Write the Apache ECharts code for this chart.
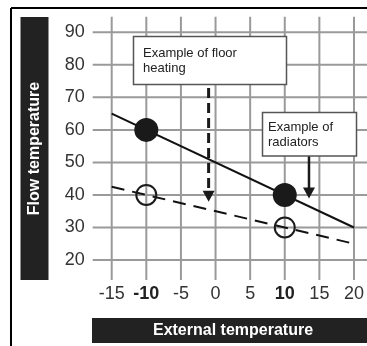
<!DOCTYPE html>
<html><head><meta charset="utf-8">
<script src="https://cdn.jsdelivr.net/npm/echarts@6/dist/echarts.min.js"></script>
<style>html,body{margin:0;padding:0;background:#fff}#c{width:367px;height:346px}</style>
</head><body><div id="c"></div>
<script>
// ---- data ----
var xTicks = [-15, -10, -5, 0, 5, 10, 15, 20];
var yTicks = [20, 30, 40, 50, 60, 70, 80, 90];
var boldTicks = [-10, 10];
var radiatorCurve = [[-15, 65], [20, 30]];
var floorCurve = [[-15, 42.5], [20, 25]];
var radiatorPoints = [[-10, 60], [10, 40]];
var floorPoints = [[-10, 40], [10, 30]];
// arrows: [x, yFrom, yTo, dashed(1/0)]
var arrows = [[-1, 72.9, 37.9, 1], [13.5, 52, 38.9, 0]];
var xTitle = 'External temperature';
var yTitle = 'Flow temperature';
var floorNote = 'Example of floor\nheating';
var radiatorNote = 'Example of\nradiators';

var FONT = '"Liberation Sans", Arial, Helvetica, sans-serif';
var chart = echarts.init(document.getElementById('c'), null, {renderer: 'canvas'});

function tickFmt(v) {
  return boldTicks.indexOf(v) >= 0 ? '{b|' + v + '}' : '{n|' + v + '}';
}
var rich = {
  n: {fontSize: 18, color: '#333', fontFamily: FONT},
  b: {fontSize: 18, color: '#222', fontWeight: 'bold', fontFamily: FONT}
};

var option = {
  animation: false,
  grid: {left: 111.7, right: 12.7, top: 32.3, bottom: 86},
  xAxis: {
    type: 'value', min: -15, max: 20, interval: 5,
    axisLine: {show: false}, axisTick: {show: false}, splitLine: {show: false},
    axisLabel: {margin: 25, formatter: tickFmt, rich: rich}
  },
  yAxis: {
    type: 'value', min: 20, max: 90, interval: 10,
    axisLine: {show: false}, axisTick: {show: false}, splitLine: {show: false},
    axisLabel: {margin: 27, formatter: tickFmt, rich: rich}
  },
  series: [
    {
      type: 'custom', name: 'vgrid', silent: true, z: 1,
      data: xTicks.map(function (v) { return [v]; }),
      renderItem: function (params, api) {
        var x = api.value(0);
        var top = api.coord([x, 90]);
        var bot = api.coord([x, 20]);
        return {type: 'line', shape: {x1: top[0], y1: top[1] - 15.5, x2: bot[0], y2: bot[1] + 20},
          style: {stroke: '#9a9a9a', lineWidth: 2}};
      }
    },
    {
      type: 'custom', name: 'hgrid', silent: true, z: 1,
      data: yTicks.map(function (v) { return [v]; }),
      renderItem: function (params, api) {
        var y = api.value(0);
        var l = api.coord([-15, y]);
        return {type: 'line', shape: {x1: l[0] - 19, y1: l[1], x2: 367, y2: l[1]},
          style: {stroke: '#9a9a9a', lineWidth: 2}};
      }
    },
    {
      type: 'line', data: radiatorCurve, symbol: 'none', z: 3,
      lineStyle: {color: '#111', width: 2}
    },
    {
      type: 'line', data: floorCurve, symbol: 'none', z: 3,
      lineStyle: {color: '#111', width: 2, type: [13, 8]}
    },
    {
      type: 'scatter', data: radiatorPoints, symbol: 'circle', symbolSize: 24, z: 4,
      itemStyle: {color: '#1a1a1a', opacity: 1}
    },
    {
      type: 'scatter', data: floorPoints, symbol: 'circle', symbolSize: 20, z: 4,
      itemStyle: {color: 'rgba(0,0,0,0)', borderColor: '#1a1a1a', borderWidth: 2, opacity: 1}
    },
    {
      type: 'custom', name: 'arrows', silent: true, z: 5,
      data: arrows,
      renderItem: function (params, api) {
        var x = api.value(0);
        var p1 = api.coord([x, api.value(1)]);
        var p2 = api.coord([x, api.value(2)]);
        var dashed = api.value(3) === 1;
        var hh = 11, hw = 6;
        return {type: 'group', children: [
          {type: 'line', shape: {x1: p1[0], y1: p1[1], x2: p2[0], y2: p2[1] - hh + 1},
            style: {stroke: '#1a1a1a', lineWidth: dashed ? 3 : 2.5, lineDash: dashed ? [10, 5] : null}},
          {type: 'polygon', shape: {points: [[p2[0] - hw, p2[1] - hh], [p2[0] + hw, p2[1] - hh], [p2[0], p2[1]]]},
            style: {fill: '#1a1a1a'}}
        ]};
      }
    }
  ],
  graphic: [
    // frame
    {type: 'line', shape: {x1: 11, y1: 8, x2: 367, y2: 8}, style: {stroke: '#000', lineWidth: 2}, z: 10},
    {type: 'line', shape: {x1: 11, y1: 8, x2: 11, y2: 346}, style: {stroke: '#000', lineWidth: 2}, z: 10},
    // y title bar
    {type: 'rect', shape: {x: 20.5, y: 17, width: 28, height: 263}, style: {fill: '#222'}, z: 10},
    {type: 'text', x: 35, y: 148.5, rotation: Math.PI / 2, z: 11,
      style: {text: yTitle, fill: '#fff', font: 'bold 16px ' + FONT, align: 'center', verticalAlign: 'middle'}},
    // x title bar
    {type: 'rect', shape: {x: 92, y: 318, width: 275, height: 25}, style: {fill: '#222'}, z: 10},
    {type: 'text', x: 233, y: 330.5, z: 11,
      style: {text: xTitle, fill: '#fff', font: 'bold 16px ' + FONT, align: 'center', verticalAlign: 'middle'}},
    // notes
    {type: 'rect', shape: {x: 133.5, y: 36.5, width: 153, height: 48}, style: {fill: '#fff', stroke: '#555', lineWidth: 1.5}, z: 10},
    {type: 'text', x: 143, y: 60.5, z: 11,
      style: {text: floorNote, fill: '#222', font: '13px ' + FONT, lineHeight: 15, align: 'left', verticalAlign: 'middle'}},
    {type: 'rect', shape: {x: 262.5, y: 112.5, width: 94, height: 43.5}, style: {fill: '#fff', stroke: '#555', lineWidth: 1.5}, z: 10},
    {type: 'text', x: 268, y: 134.5, z: 11,
      style: {text: radiatorNote, fill: '#222', font: '13px ' + FONT, lineHeight: 15, align: 'left', verticalAlign: 'middle'}}
  ]
};
chart.setOption(option);
</script>
</body></html>
